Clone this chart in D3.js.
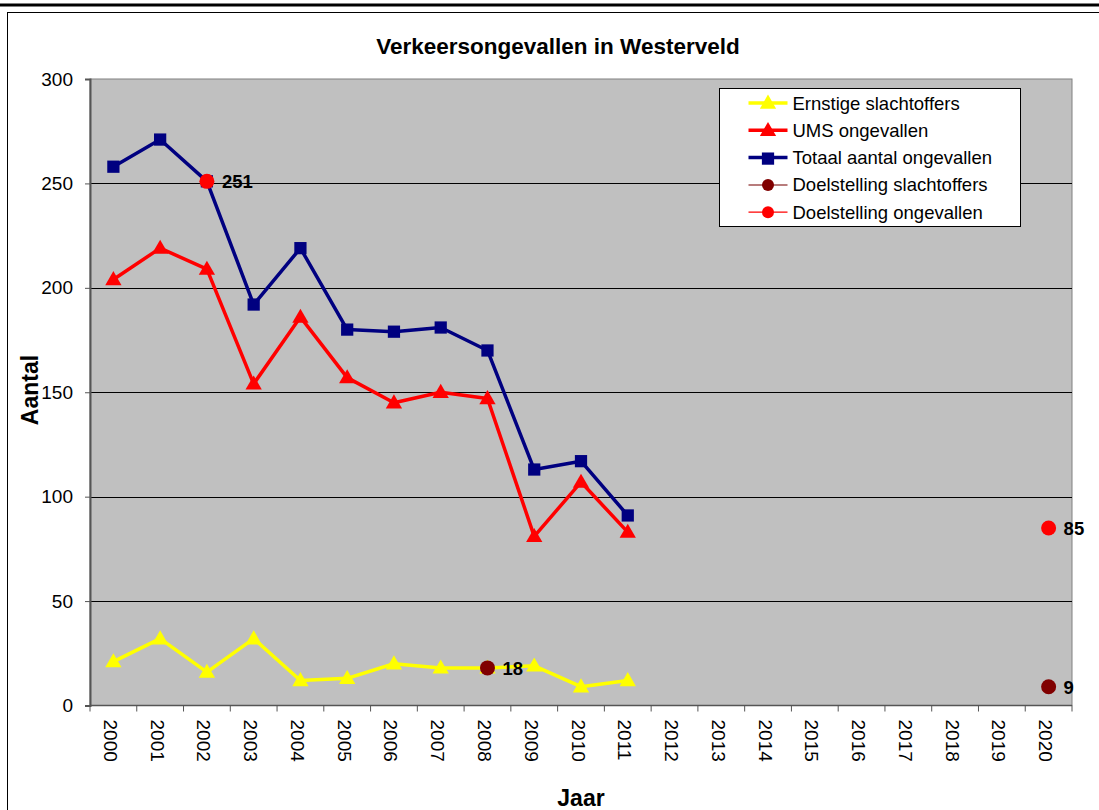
<!DOCTYPE html>
<html lang="nl">
<head>
  <meta charset="UTF-8">
  <title>Verkeersongevallen in Westerveld</title>
  <script src="https://d3js.org/d3.v7.min.js"></script>
  <style>
    body {
      margin: 0;
      background: #fff;
      font-family: "Liberation Sans", Arial, sans-serif;
    }
    svg {
      display: block;
    }
  </style>
</head>
<body>
  <svg width="1099" height="810"></svg>

  <script>
    const years = d3.range(2000, 2021).map(String);
    const ernstige = [21, 32, 16, 32, 12, 13, 20, 18, 18, 19, 9, 12];
    const ums = [204, 219, 209, 154, 186, 157, 145, 150, 147, 81, 107, 83];
    const totaal = [258, 271, 251, 192, 219, 180, 179, 181, 170, 113, 117, 91];
    const doelSlachtoffers = [{ year: "2008", value: 18 }, { year: "2020", value: 9 }];
    const doelOngevallen = [{ year: "2002", value: 251 }, { year: "2020", value: 85 }];
    const yTicks = [0, 50, 100, 150, 200, 250, 300];

    const svg = d3.select("svg");

    // outer frame
    svg.append("rect")
      .attr("x", 0).attr("y", 3.5)
      .attr("width", 1099).attr("height", 3)
      .attr("fill", "#000");
    svg.append("rect")
      .attr("x", 7.5).attr("y", 12.5)
      .attr("width", 1200).attr("height", 900)
      .attr("fill", "none")
      .attr("stroke", "#000");

    const plotL = 90, plotR = 1072, plotT = 79, plotB = 705.5;

    const x = d3.scaleBand().domain(years).range([plotL, plotR]);
    const cx = d => x(d) + x.bandwidth() / 2;
    const y = d3.scaleLinear().domain([0, 300]).range([plotB, plotT]);

    // plot area
    svg.append("rect")
      .attr("x", plotL).attr("y", plotT)
      .attr("width", plotR - plotL).attr("height", plotB - plotT)
      .attr("fill", "#c0c0c0")
      .attr("stroke", "#808080");

    // gridlines
    svg.append("g")
      .selectAll("line")
      .data(yTicks.filter(d => d > 0 && d < 300))
      .join("line")
      .attr("x1", plotL).attr("x2", plotR)
      .attr("y1", d => Math.round(y(d)) + 0.5)
      .attr("y2", d => Math.round(y(d)) + 0.5)
      .attr("stroke", "#000");

    // y axis
    const yAxis = svg.append("g")
      .attr("transform", `translate(${plotL},0)`)
      .call(d3.axisLeft(y).tickValues(yTicks).tickSize(5).tickPadding(12));
    yAxis.select(".domain").attr("stroke", "#555").attr("stroke-width", 2);
    yAxis.selectAll(".tick line").attr("stroke", "#555");
    yAxis.selectAll("text")
      .attr("font-size", 19)
      .attr("font-family", "Liberation Sans, Arial, sans-serif")
      .attr("fill", "#000");

    // x axis
    svg.append("line")
      .attr("x1", plotL).attr("x2", plotR)
      .attr("y1", plotB).attr("y2", plotB)
      .attr("stroke", "#555").attr("stroke-width", 1.5);
    svg.append("g")
      .selectAll("line")
      .data(years.concat(["end"]))
      .join("line")
      .attr("x1", d => d === "end" ? plotR : x(d))
      .attr("x2", d => d === "end" ? plotR : x(d))
      .attr("y1", plotB).attr("y2", plotB + 6)
      .attr("stroke", "#555");
    svg.append("g")
      .selectAll("text")
      .data(years)
      .join("text")
      .attr("transform", d => `translate(${cx(d) - 3},${plotB + 14}) rotate(90)`)
      .attr("dominant-baseline", "central")
      .attr("font-size", 19)
      .text(d => d);

    // titles
    svg.append("text")
      .attr("x", 558).attr("y", 54)
      .attr("text-anchor", "middle")
      .attr("font-size", 22.5)
      .attr("font-weight", "bold")
      .text("Verkeersongevallen in Westerveld");
    svg.append("text")
      .attr("transform", "translate(38,390) rotate(-90)")
      .attr("text-anchor", "middle")
      .attr("font-size", 23)
      .attr("font-weight", "bold")
      .text("Aantal");
    svg.append("text")
      .attr("x", 581).attr("y", 806)
      .attr("text-anchor", "middle")
      .attr("font-size", 23)
      .attr("font-weight", "bold")
      .text("Jaar");

    const line = d3.line()
      .x((d, i) => cx(years[i]))
      .y(d => y(d));

    const triangle = d3.symbol().type(d3.symbolTriangle).size(115);
    const square = d3.symbol().type(d3.symbolSquare).size(150);

    function drawSeries(values, color, symbol, dy) {
      svg.append("path")
        .datum(values)
        .attr("d", line)
        .attr("fill", "none")
        .attr("stroke", color)
        .attr("stroke-width", 3.5)
        .attr("stroke-linejoin", "round");
      svg.append("g")
        .selectAll("path")
        .data(values)
        .join("path")
        .attr("transform", (d, i) => `translate(${cx(years[i])},${y(d) + dy})`)
        .attr("d", symbol)
        .attr("fill", color);
    }

    drawSeries(totaal, "#000080", square, 0);
    drawSeries(ums, "#ff0000", triangle, 1);
    drawSeries(ernstige, "#ffff00", triangle, 1);

    function drawTarget(points, color) {
      const g = svg.append("g");
      g.selectAll("circle")
        .data(points)
        .join("circle")
        .attr("cx", d => cx(d.year))
        .attr("cy", d => y(d.value))
        .attr("r", 7.5)
        .attr("fill", color);
      g.selectAll("text")
        .data(points)
        .join("text")
        .attr("x", d => cx(d.year) + 15)
        .attr("y", d => y(d.value) + 7)
        .attr("font-size", 18.5)
        .attr("font-weight", "bold")
        .text(d => d.value);
    }

    drawTarget(doelSlachtoffers, "#800000");
    drawTarget(doelOngevallen, "#ff0000");

    // legend
    const legendItems = [
      { name: "Ernstige slachtoffers", color: "#ffff00", line: "#ffff00", width: 3.5, symbol: triangle },
      { name: "UMS ongevallen", color: "#ff0000", line: "#ff0000", width: 3.5, symbol: triangle },
      { name: "Totaal aantal ongevallen", color: "#000080", line: "#000080", width: 3.5, symbol: square },
      { name: "Doelstelling slachtoffers", color: "#800000", line: "#a05050", width: 1.5, symbol: null },
      { name: "Doelstelling ongevallen", color: "#ff0000", line: "#ff0000", width: 1.2, symbol: null }
    ];

    const legend = svg.append("g").attr("transform", "translate(719.5,88.5)");
    legend.append("rect")
      .attr("width", 301).attr("height", 138)
      .attr("fill", "#fff")
      .attr("stroke", "#000");

    const rows = legend.selectAll("g.item")
      .data(legendItems)
      .join("g")
      .attr("class", "item")
      .attr("transform", (d, i) => `translate(0,${14.5 + i * 27.3})`);
    rows.append("line")
      .attr("x1", 29).attr("x2", 68)
      .attr("stroke", d => d.line)
      .attr("stroke-width", d => d.width);
    rows.each(function (d) {
      const r = d3.select(this);
      if (d.symbol) {
        r.append("path")
          .attr("transform", "translate(48.5,1)")
          .attr("d", d.symbol)
          .attr("fill", d.color);
      } else {
        r.append("circle")
          .attr("cx", 48.5).attr("r", 6)
          .attr("fill", d.color);
      }
    });
    rows.append("text")
      .attr("x", 73)
      .attr("y", 6.5)
      .attr("font-size", 18.5)
      .text(d => d.name);
  </script>
</body>
</html>
